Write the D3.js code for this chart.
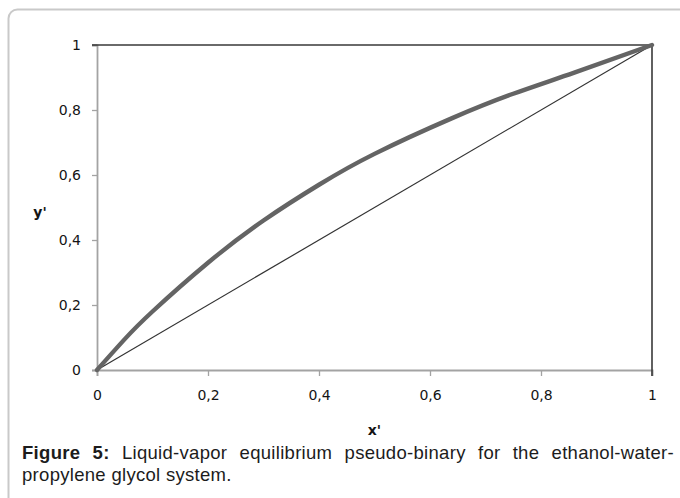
<!DOCTYPE html>
<html>
<head>
<meta charset="utf-8">
<script src="https://cdn.jsdelivr.net/npm/d3@7"></script>
<style>
  body { margin: 0; background: #fff; }
  #root { position: relative; width: 680px; height: 498px; overflow: hidden; }
  .cap { position: absolute; left: 22px; width: 652px; font-family: "Liberation Sans", Arial, sans-serif; font-size: 18.5px; line-height: 22px; letter-spacing: 0.3px; color: #1c1c1c; white-space: nowrap; }
  .cap.l1 { text-align: justify; text-align-last: justify; white-space: normal; }
</style>
</head>
<body>
<div id="root"></div>
<script>
const width = 680
const height = 498
const margin = { left: 97, right: 25, top: 45, bottom: 128 }

// liquid x' vs vapour y'
const xLiquid = [0, 0.05, 0.1, 0.2, 0.3, 0.4, 0.5, 0.64, 0.75, 0.86, 1]
const yVapor = [0, 0.095, 0.18, 0.33, 0.46, 0.57, 0.665, 0.775, 0.85, 0.915, 1]
const diagX = [0, 1]
const diagY = [0, 1]
const frameX = [0, 1, 1]
const frameY = [1, 1, 0]
const tickValues = [0, 0.2, 0.4, 0.6, 0.8, 1]

const root = d3.select('#root')
const svg = root.append('svg').attr('width', width).attr('height', height)
  .style('position', 'absolute').style('left', 0).style('top', 0)

// outer frame
svg.append('rect')
  .attr('x', 8.5).attr('y', 9.5).attr('width', 700).attr('height', 520)
  .attr('rx', 9).attr('fill', 'none').attr('stroke', '#c9c9c9').attr('stroke-width', 2)

const x = d3.scaleLinear().domain([0, 1]).range([margin.left, width - margin.right - 3])
const y = d3.scaleLinear().domain([0, 1]).range([height - margin.bottom, margin.top])

const fmt = (d) => String(d).replace('.', ',')

const xAxis = svg.append('g')
  .attr('transform', `translate(0,${y(0)})`)
  .call(d3.axisBottom(x).tickValues(tickValues).tickSize(6).tickPadding(14).tickFormat(fmt))
const yAxis = svg.append('g')
  .attr('transform', `translate(${x(0)},0)`)
  .call(d3.axisLeft(y).tickValues(tickValues).tickSize(5).tickPadding(11).tickFormat(fmt))

for (const ax of [xAxis, yAxis]) {
  ax.select('.domain').attr('stroke', '#a3a3a3').attr('stroke-width', 1.8)
  ax.selectAll('.tick line').attr('stroke', '#a3a3a3').attr('stroke-width', 1.3)
  ax.selectAll('.tick text')
    .attr('font-family', '"DejaVu Sans", Verdana, sans-serif')
    .attr('font-size', 14).attr('fill', '#141414')
}

const line = d3.line().x((d) => x(d[0])).y((d) => y(d[1]))

// top and right border lines (with their tick stubs)
svg.append('path')
  .attr('d', line(frameX.map((v, i) => [v, frameY[i]])))
  .attr('fill', 'none').attr('stroke', '#3a3a3a').attr('stroke-width', 1.6)
svg.append('line')
  .attr('x1', x(0) - 5).attr('x2', x(0)).attr('y1', y(1)).attr('y2', y(1))
  .attr('stroke', '#3a3a3a').attr('stroke-width', 1.6)
svg.append('line')
  .attr('x1', x(1)).attr('x2', x(1)).attr('y1', y(0)).attr('y2', y(0) + 6)
  .attr('stroke', '#3a3a3a').attr('stroke-width', 1.6)

// diagonal y = x
svg.append('path')
  .attr('d', line(diagX.map((v, i) => [v, diagY[i]])))
  .attr('fill', 'none').attr('stroke', '#333').attr('stroke-width', 1.2)

// equilibrium curve
const smooth = d3.line().x((d) => x(d[0])).y((d) => y(d[1])).curve(d3.curveNatural)
svg.append('path')
  .attr('d', smooth(xLiquid.map((v, i) => [v, yVapor[i]])))
  .attr('fill', 'none').attr('stroke', '#646464').attr('stroke-width', 4.4)
  .attr('stroke-linecap', 'round')

// axis titles
svg.append('text').text("x'")
  .attr('x', (x(0) + x(1)) / 2).attr('y', 435).attr('text-anchor', 'middle')
  .attr('font-family', '"DejaVu Sans", Verdana, sans-serif').attr('font-weight', 'bold')
  .attr('font-size', 14).attr('fill', '#141414')
svg.append('text').text("y'")
  .attr('x', 40).attr('y', 217).attr('text-anchor', 'middle')
  .attr('font-family', '"DejaVu Sans", Verdana, sans-serif').attr('font-weight', 'bold')
  .attr('font-size', 14).attr('fill', '#141414')

// caption
root.append('div').attr('class', 'cap l1').style('top', '442px')
  .html('<b>Figure 5:</b> Liquid-vapor equilibrium pseudo-binary for the ethanol-water-')
root.append('div').attr('class', 'cap').style('top', '464px')
  .text('propylene glycol system.')
</script>
</body>
</html>
